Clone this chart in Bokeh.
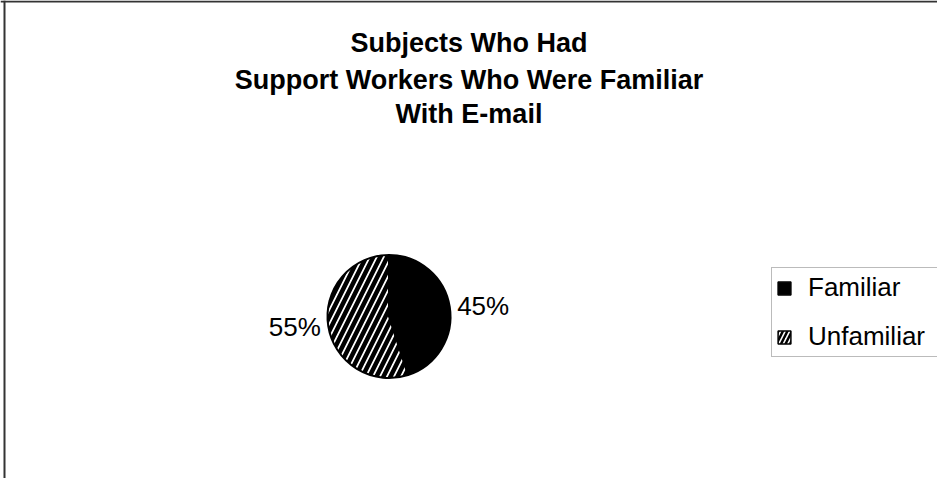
import numpy as np
from bokeh.plotting import figure
from bokeh.models import ColumnDataSource, Legend, LegendItem, Label, Span
from bokeh.core.properties import value
from bokeh.embed import file_html
from bokeh.resources import INLINE

# ---- data ----
TITLE_LINES = ["Subjects Who Had", "Support Workers Who Were Familiar", "With E-mail"]
categories = ["Familiar", "Unfamiliar"]
shares = [45, 55]
pct_labels = ["45%", "55%"]
fills = ["black", "white"]
hatches = [" ", "/"]

W, H = 937, 478
FONT = "Liberation Sans"

p = figure(width=W, height=H, x_range=(0, W), y_range=(0, H),
           output_backend="svg", toolbar_location=None, title=None,
           x_axis_location=None, y_axis_location=None, min_border=0)
p.grid.visible = False
p.outline_line_color = None
p.background_fill_color = "white"
p.border_fill_color = "white"

# pie geometry (screen px; 1 data unit == 1 px)
cx, cy, rad = 388.5, H - 316, 61.5
vals = np.array(shares, dtype=float)
frac = vals / vals.sum()
cum = np.concatenate([[0], np.cumsum(frac)])
start = np.pi / 2 - cum[:-1] * 2 * np.pi
end = np.pi / 2 - cum[1:] * 2 * np.pi
mid = (start + end) / 2

src = ColumnDataSource(dict(cat=categories, start=start, end=end,
                            fill=fills, hatch=hatches))
r = p.wedge(x=cx, y=cy, radius=rad, start_angle="start", end_angle="end",
            direction="clock", source=src, line_width=2, fill_color="fill",
            hatch_pattern="hatch", hatch_color="black", hatch_weight=4.5,
            hatch_scale=14, line_color="black")

# square swatches used only by the legend (no visible data of their own)
nan = [np.nan] * len(categories)
sw_src = ColumnDataSource(dict(cat=categories, fill=fills, hatch=hatches,
                               l=nan, r=nan, b=nan, t=nan))
sw = p.quad(left="l", right="r", bottom="b", top="t", source=sw_src,
            line_width=1.5, fill_color="fill", hatch_pattern="hatch",
            hatch_color="black", hatch_weight=2.5, hatch_scale=9, line_color="black")

# percentage labels
lr = 69
lx = cx + lr * np.cos(mid)
ly = cy + lr * np.sin(mid)
aligns = ["left" if np.cos(m) >= 0 else "right" for m in mid]
lsrc = ColumnDataSource(dict(x=lx, y=ly, t=pct_labels, a=aligns))
p.text(x="x", y="y", text="t", text_align="a", text_baseline="middle",
       source=lsrc, text_font=value(FONT), text_font_size="26px",
       text_color="black")

# title
baselines = [436, 399, 365]
for line, b in zip(TITLE_LINES, baselines):
    p.add_layout(Label(x=W / 2, y=b, x_units="screen", y_units="screen",
                       text=line, text_align="center", text_baseline="alphabetic",
                       text_font=FONT, text_font_size="27px",
                       text_font_style="bold", text_color="black"))

# chart area border (top and left edges visible)
p.add_layout(Span(location=4, dimension="height", line_color="#333333", line_width=2))
p.add_layout(Span(location=H - 1, dimension="width", line_color="#333333", line_width=2))

legend = Legend(items=[LegendItem(label=c, renderers=[sw], index=i)
                       for i, c in enumerate(categories)],
                location=(771, 121), orientation="vertical",
                label_text_font=FONT, label_text_font_size="26px",
                label_text_color="black", label_width=150,
                glyph_width=16, glyph_height=16, label_standoff=16,
                padding=4, spacing=18, margin=0,
                border_line_color="#777777", border_line_width=1.5,
                background_fill_color="white", background_fill_alpha=1.0)
p.add_layout(legend, "center")

open("out.html", "w").write(file_html(p, INLINE))
